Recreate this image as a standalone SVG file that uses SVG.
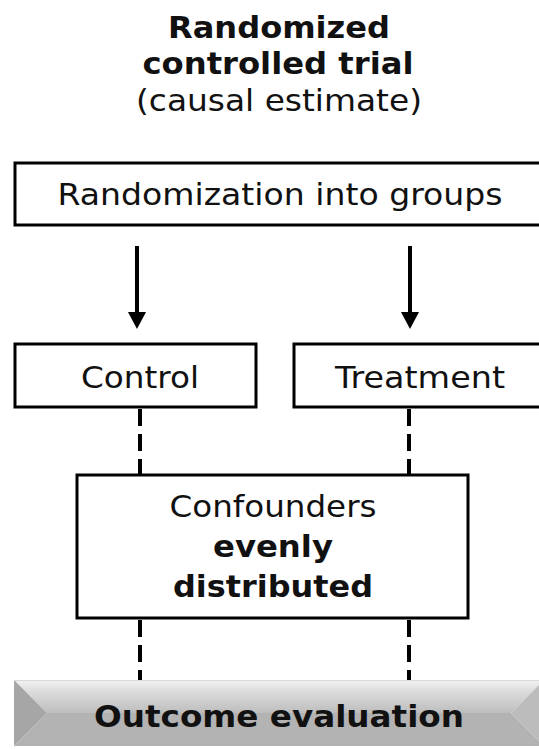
<svg xmlns="http://www.w3.org/2000/svg" width="539" height="749" viewBox="0 0 539 749">
<defs>
<style>
.t{font-family:"DejaVu Sans",Verdana,sans-serif;font-size:30px;fill:#111;text-anchor:middle}
.b{font-weight:bold}
.box{fill:#fff;stroke:#000;stroke-width:3}
.dash{stroke:#000;stroke-width:4;stroke-dasharray:17 8;fill:none}
.shaft{stroke:#000;stroke-width:4}
</style>
<linearGradient id="topg" x1="0" y1="0" x2="0" y2="1">
<stop offset="0" stop-color="#f2f2f2"/>
<stop offset="0.35" stop-color="#dcdcdc"/>
<stop offset="1" stop-color="#bdbdbd"/>
</linearGradient>
</defs>
<rect width="539" height="749" fill="#fff"/>
<g id="title">
<text class="t b" x="279" y="38" textLength="222" lengthAdjust="spacingAndGlyphs">Randomized</text>
<text class="t b" x="278" y="74" textLength="271" lengthAdjust="spacingAndGlyphs">controlled trial</text>
<text class="t" x="279" y="111" textLength="286" lengthAdjust="spacingAndGlyphs">(causal estimate)</text>
</g>
<g id="connectors">
<line class="shaft" x1="137" y1="246" x2="137" y2="314"/>
<polygon points="128,312 146,312 137,329" fill="#000"/>
<line class="shaft" x1="410" y1="246" x2="410" y2="314"/>
<polygon points="401,312 419,312 410,329" fill="#000"/>
<line class="dash" x1="140" y1="409" x2="140" y2="474"/>
<line class="dash" x1="409" y1="409" x2="409" y2="474"/>
<line class="dash" x1="140" y1="620" x2="140" y2="680"/>
<line class="dash" x1="409" y1="620" x2="409" y2="680"/>
</g>
<g id="randomization">
<rect class="box" x="15" y="163" width="530" height="62"/>
<text class="t" x="280" y="205" textLength="445" lengthAdjust="spacingAndGlyphs">Randomization into groups</text>
</g>
<g id="control">
<rect class="box" x="15" y="344" width="241" height="63"/>
<text class="t" x="140" y="388" textLength="118" lengthAdjust="spacingAndGlyphs">Control</text>
</g>
<g id="treatment">
<rect class="box" x="294" y="344" width="251" height="63"/>
<text class="t" x="420" y="388" textLength="170" lengthAdjust="spacingAndGlyphs">Treatment</text>
</g>
<g id="confounders">
<rect class="box" x="77" y="475" width="391" height="143"/>
<text class="t" x="273" y="517" textLength="207" lengthAdjust="spacingAndGlyphs">Confounders</text>
<text class="t b" x="273" y="557" textLength="120" lengthAdjust="spacingAndGlyphs">evenly</text>
<text class="t b" x="273" y="597" textLength="200" lengthAdjust="spacingAndGlyphs">distributed</text>
</g>
<g id="outcome">
<polygon points="14,680 544,680 511,713 47,713" fill="url(#topg)"/>
<polygon points="14,746 544,746 511,713 47,713" fill="#b3b3b3"/>
<polygon points="14,680 47,713 14,746" fill="#a6a6a6"/>
<polygon points="544,680 511,713 544,746" fill="#bcbcbc"/>
<line x1="14" y1="680.5" x2="544" y2="680.5" stroke="#d8d8d8" stroke-width="1"/>
<text class="t b" x="279" y="727" textLength="370" lengthAdjust="spacingAndGlyphs">Outcome evaluation</text>
</g>
</svg>
